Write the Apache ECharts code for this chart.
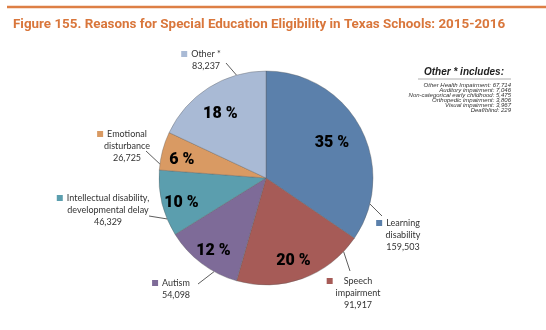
<!DOCTYPE html>
<html><head><meta charset="utf-8">
<script src="https://cdn.jsdelivr.net/npm/echarts@6/dist/echarts.min.js"></script>
<style>html,body{margin:0;padding:0;background:#fff}#c{width:546px;height:330px}</style>
</head><body><div id="c"></div>
<script>
const categories = ['Learning\ndisability', 'Speech\nimpairment', 'Autism', 'Intellectual disability,\ndevelopmental delay', 'Emotional\ndisturbance', 'Other *'];
const values = [159503, 91917, 54098, 46329, 26725, 83237];
const colors = ['#5b80ab', '#a65b57', '#7e6b98', '#5b9eae', '#d99a63', '#a9bad5'];
const otherItems = ['Other Health Impairment', 'Auditory impairment', 'Non-categorical early childhood', 'Orthopedic impairment', 'Visual impairment', 'Deaf/blind'];
const otherValues = [67714, 7046, 5475, 3806, 3967, 229];

const total = values.reduce((a, b) => a + b, 0);
const fmt = v => v.toLocaleString('en-US');

// layout only: label anchors, leader-line edge angles (deg, clockwise from top) and leader ends
const CX = 266, CY = 178, R = 107;
const outLabelPos = [[403, 235], [358, 293], [176, 289], [108, 210], [127, 146], [206, 60]];
const squareGap = [4, 11, 4, 4, 4, 4];
const leaderAngle = [104, 133.5, 209, 247.5, 277.5, 344];
const leaderEnd = [[382, 216], [350, 271], [198, 284], [149, 216], [146, 151], [226, 63]];

const rich = { t: { fontFamily: 'Lato', fontSize: 9, color: '#333', lineHeight: 12 }, sqh: { width: 6, height: 6 } };
colors.forEach((c, i) => { rich['sq' + i] = { width: 6, height: 6, backgroundColor: c }; rich['g' + i] = { width: squareGap[i] }; });

const edgePoint = a => { const r = a * Math.PI / 180; return [CX + R * Math.sin(r), CY - R * Math.cos(r)]; };

const chart = echarts.init(document.getElementById('c'), null, { renderer: 'canvas' });
const otherGraphics = [
  { type: 'text', x: 464, y: 72, style: { text: 'Other * includes:', font: 'italic bold 10px "Liberation Sans", Arial', fill: '#222', textAlign: 'center', textVerticalAlign: 'middle' } },
  { type: 'line', shape: { x1: 418, y1: 79, x2: 511, y2: 79 }, style: { stroke: '#999', lineWidth: 0.8 } }
];
otherItems.forEach((name, i) => {
  otherGraphics.push({ type: 'text', x: 511, y: 85 + i * 5, style: { text: name + ': ' + fmt(otherValues[i]), font: 'italic 6px "Liberation Sans", Arial', fill: '#333', textAlign: 'right', textVerticalAlign: 'middle' } });
});

chart.setOption({
  animation: false,
  title: { text: 'Figure 155. Reasons for Special Education Eligibility in Texas Schools: 2015-2016', left: 8, top: 13, textStyle: { color: '#d9763b', fontFamily: 'Roboto', fontWeight: 'bold', fontSize: 13.4 } },
  graphic: [{ type: 'line', shape: { x1: 7, y1: 7, x2: 546, y2: 7 }, style: { stroke: '#dd7f45', lineWidth: 2.5 } }].concat(otherGraphics),
  series: [
    {
      type: 'pie', center: [CX, CY], radius: R, startAngle: 90, clockwise: true,
      itemStyle: { borderColor: 'rgba(90,90,90,0.6)', borderWidth: 0.6 },
      data: values.map((v, i) => ({ value: v, name: categories[i], itemStyle: { color: colors[i] } })),
      label: {
        show: true, position: 'outside', align: 'center', rich: rich,
        formatter: p => {
          const i = p.dataIndex;
          const lines = categories[i].split('\n');
          let s = '{sq' + i + '|}{g' + i + '|}{t|' + lines[0] + '}{g' + i + '|}{sqh|}';
          for (let k = 1; k < lines.length; k++) s += '\n{t|' + lines[k] + '}';
          s += '\n{t|' + fmt(p.value) + '}';
          return s;
        }
      },
      labelLine: { show: true, length: 6, length2: 4, lineStyle: { color: '#333', width: 0.8 } },
      labelLayout: p => {
        const i = p.dataIndex;
        const e = edgePoint(leaderAngle[i]);
        return {
          x: outLabelPos[i][0], y: outLabelPos[i][1], align: 'center', verticalAlign: 'middle',
          labelLinePoints: [e, e, leaderEnd[i]]
        };
      }
    },
    {
      type: 'pie', center: [CX, CY], radius: [74, 94], startAngle: 90, clockwise: true, silent: true,
      itemStyle: { color: 'rgba(0,0,0,0)' },
      data: values.map((v, i) => ({ value: v, name: categories[i] })),
      label: {
        show: true, position: 'inside', color: '#000',
        fontFamily: 'Roboto', fontWeight: 900, fontSize: 16,
        formatter: p => Math.round(p.value / total * 100) + ' %'
      },
      labelLine: { show: false },
      labelLayout: p => (p.dataIndex === 0 ? { dx: -11, dy: 6 } : p.dataIndex === 5 ? { dx: 1, dy: 9 } : p.dataIndex === 1 ? { dx: -2, dy: 1 } : { dy: 4 })
    }
  ]
});
</script></body></html>
